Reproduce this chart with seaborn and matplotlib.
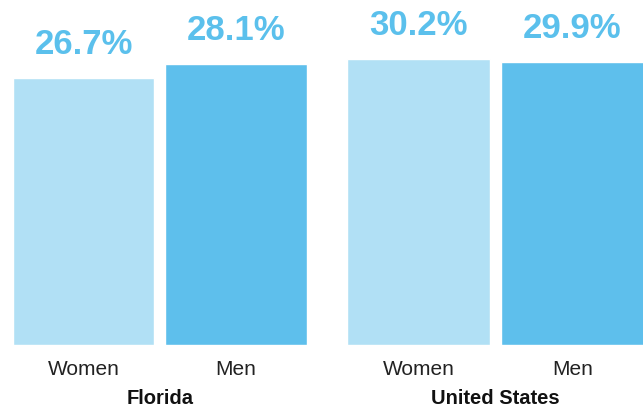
import pandas as pd
import matplotlib.pyplot as plt
import seaborn as sns

# values
regions = ["Florida", "Florida", "United States", "United States"]
sexes = ["Women", "Men", "Women", "Men"]
shares = [26.7, 28.1, 30.2, 29.9]

df = pd.DataFrame({"region": regions, "sex": sexes, "share": shares})

sns.set_theme(style="white")
plt.rcParams["font.family"] = ["Liberation Sans", "DejaVu Sans"]

colors = {"Women": "#b1e0f5", "Men": "#5ebfec"}
label_color = "#5bc0ec"

fig = plt.figure(figsize=(6.43, 4.11), dpi=100)
W, H = 643, 411

# each panel has its own scale (as in the original graphic)
panels = [
    ("Florida", (0, 320), (-0.548, 1.551), 34.5),
    ("United States", (320, 643), (-0.640, 1.458), 36.43),
]

for region, (x0, x1), xlim, ytop in panels:
    ax = fig.add_axes([x0 / W, 1 - 345 / H, (x1 - x0) / W, 345 / H])
    sub = df[df["region"] == region]
    sns.barplot(data=sub, x="sex", y="share", hue="sex", palette=colors,
                width=0.925, legend=False, ax=ax, saturation=1)
    ax.set_xlim(*xlim)
    ax.set_ylim(0, ytop)
    for p, v in zip(ax.patches, sub["share"]):
        ax.annotate(f"{v:.1f}%", (p.get_x() + p.get_width() / 2, p.get_height()),
                    xytext=(0, 12), textcoords="offset points",
                    ha="center", va="bottom", fontsize=25, fontweight="bold",
                    color=label_color)
    ax.set_xlabel("")
    ax.set_ylabel("")
    ax.set_yticks([])
    ax.tick_params(axis="x", length=0, pad=11, labelsize=15, labelcolor="#222222")
    for s in ax.spines.values():
        s.set_visible(False)
    ax.patch.set_alpha(0)

fig.text(160 / W, 1 - 398 / H, "Florida", ha="center", va="center",
         fontsize=14.5, fontweight="bold", color="#111111")
fig.text(495.5 / W, 1 - 398 / H, "United States", ha="center", va="center",
         fontsize=14.5, fontweight="bold", color="#111111")

fig.savefig("out.png", dpi=100)
